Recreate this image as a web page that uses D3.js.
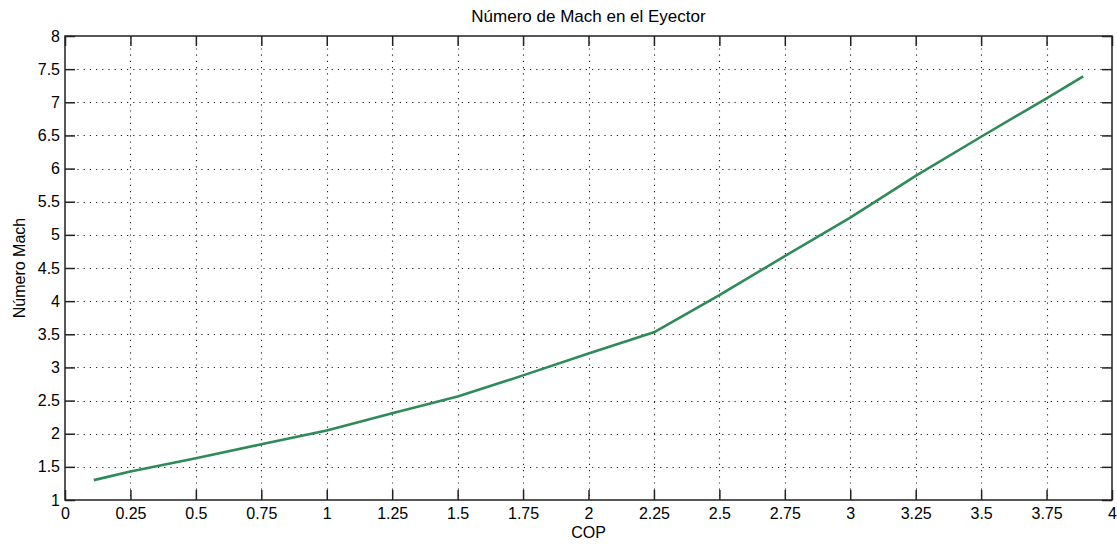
<!DOCTYPE html>
<html><head><meta charset="utf-8">
<script src="https://cdn.jsdelivr.net/npm/d3@7"></script>
<style>
html,body{margin:0;padding:0;background:#fff;}
text{font-family:"Liberation Sans",Arial,sans-serif;fill:#000;}
</style></head>
<body><svg id="c" width="1117" height="545"></svg>
<script>
const cop  = [0.11, 0.25, 0.5, 0.75, 1.0, 1.25, 1.5, 1.75, 2.0, 2.25, 2.5, 2.75, 3.0, 3.25, 3.5, 3.75, 3.89];
const mach = [1.30, 1.43, 1.63, 1.84, 2.05, 2.31, 2.56, 2.88, 3.21, 3.53, 4.09, 4.68, 5.26, 5.89, 6.48, 7.06, 7.39];
const xTicks = [0,0.25,0.5,0.75,1,1.25,1.5,1.75,2,2.25,2.5,2.75,3,3.25,3.5,3.75,4];
const yTicks = [1,1.5,2,2.5,3,3.5,4,4.5,5,5.5,6,6.5,7,7.5,8];
const title = "Número de Mach en el Eyector";
const xLabel = "COP";
const yLabel = "Número Mach";

const L=65, R=1112, T=36, B=500;
const svg = d3.select("#c");
const x = d3.scaleLinear().domain([0,4]).range([L,R]);
const y = d3.scaleLinear().domain([1,8]).range([B,T]);
const fmt = d => String(d);

// grid
const g = svg.append("g");
g.selectAll(".gx").data(xTicks.slice(1,-1)).enter().append("line")
  .attr("x1",d=>Math.round(x(d))+0.5).attr("x2",d=>Math.round(x(d))+0.5)
  .attr("y1",T).attr("y2",B)
  .attr("stroke","#222").attr("stroke-width",1.1).attr("stroke-dasharray","1.2,5");
g.selectAll(".gy").data(yTicks.slice(1,-1)).enter().append("line")
  .attr("y1",d=>Math.round(y(d))+0.5).attr("y2",d=>Math.round(y(d))+0.5)
  .attr("x1",L).attr("x2",R)
  .attr("stroke","#222").attr("stroke-width",1.1).attr("stroke-dasharray","1.2,5");

// line
svg.append("path").datum(cop.map((c,i)=>[c,mach[i]]))
  .attr("fill","none").attr("stroke","#2e8b57").attr("stroke-width",2.6)
  .attr("stroke-linejoin","round")
  .attr("d", d3.line().x(d=>x(d[0])).y(d=>y(d[1])));

// axes
const tl = -10;
const ax = (gen, tr) => {
  const a = svg.append("g").attr("transform",tr).call(gen);
  a.select(".domain").remove();
  a.selectAll(".tick line").attr("stroke","#222").attr("stroke-width",1.5);
  a.selectAll("text").style("font-size","16px").attr("fill","#000");
  return a;
};
ax(d3.axisBottom(x).tickValues(xTicks).tickFormat(fmt).tickSize(tl).tickPadding(8), `translate(0,${B})`);
ax(d3.axisTop(x).tickValues(xTicks).tickFormat("").tickSize(tl), `translate(0,${T})`);
ax(d3.axisLeft(y).tickValues(yTicks).tickFormat(fmt).tickSize(tl).tickPadding(5), `translate(${L},0)`);
ax(d3.axisRight(y).tickValues(yTicks).tickFormat("").tickSize(tl), `translate(${R},0)`);

svg.append("rect").attr("x",L).attr("y",T).attr("width",R-L).attr("height",B-T)
  .attr("fill","none").attr("stroke","#222").attr("stroke-width",1.5);

svg.append("text").attr("x",(L+R)/2).attr("y",22).attr("text-anchor","middle")
  .style("font-size","17px").text(title);
svg.append("text").attr("x",(L+R)/2).attr("y",538).attr("text-anchor","middle")
  .style("font-size","16px").text(xLabel);
svg.append("text").attr("transform",`translate(25,${(T+B)/2}) rotate(-90)`).attr("text-anchor","middle")
  .style("font-size","16px").text(yLabel);
</script></body></html>
